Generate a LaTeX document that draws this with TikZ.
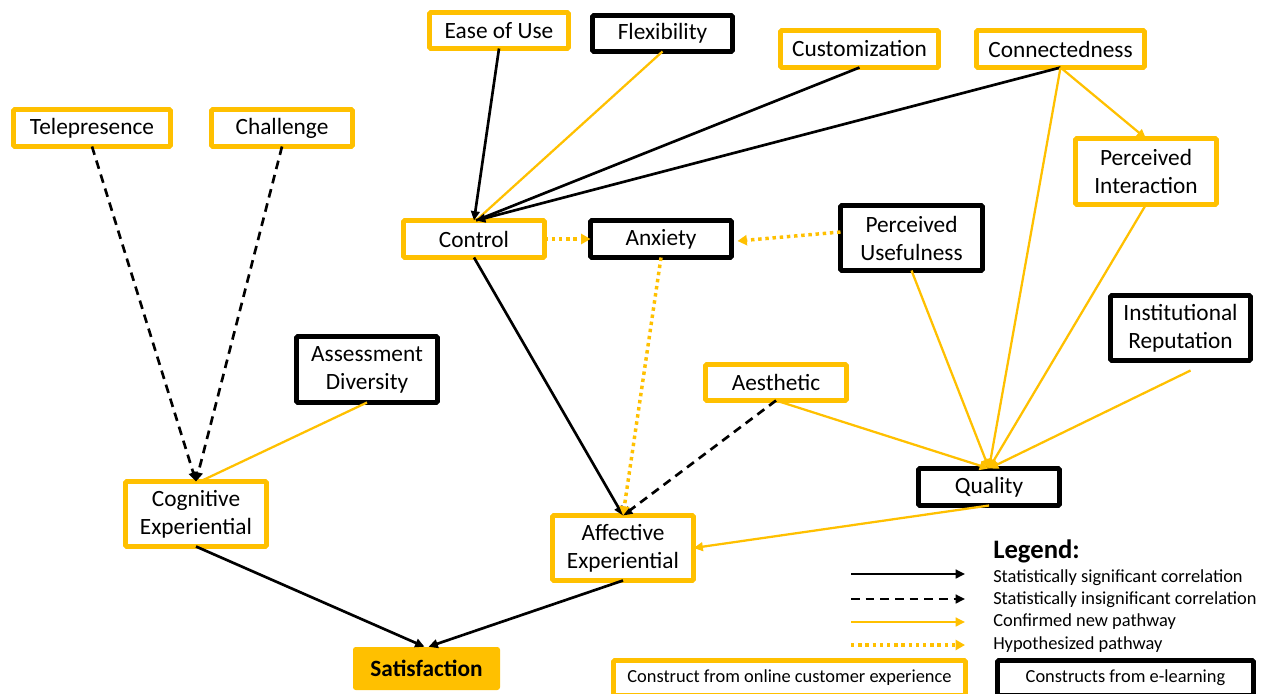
\documentclass[tikz,border=0pt]{standalone}
\usepackage{fontspec}
\setmainfont{Carlito}
\usetikzlibrary{arrows.meta,calc}
\definecolor{gold}{HTML}{FFC000}
\tikzset{
 ybox/.style={draw=gold, line width=3.6pt, rounded corners=1pt, fill=white, inner sep=0pt, outer sep=0pt, align=center, font=\fontsize{17.5}{21}\selectfont},
 kbox/.style={ybox, draw=black},
 sig/.style={draw=black, line width=2pt, -{Triangle[length=7pt,width=6.5pt]}},
 sigline/.style={draw=black, line width=2pt},
 insig/.style={sig, dash pattern=on 6.5pt off 4.5pt},
 conf/.style={draw=gold, line width=1.7pt, -{Triangle[length=7pt,width=6.5pt]}},
 confline/.style={draw=gold, line width=1.7pt},
 hyp/.style={draw=gold, line width=2.6pt, dash pattern=on 2.6pt off 2.8pt, -{Triangle[length=7pt,width=7.5pt]}},
 legtext/.style={anchor=west, inner sep=0pt, font=\fontsize{13.8}{16}\selectfont},
}
\newcommand\Bx[7]{\node[#2, minimum width={(#5-#3-5)*0.75pt}, minimum height={(#6-#4-5)*0.75pt}] (#1) at ({(#3+#5)/2},{(#4+#6)/2}) {#7};}
\begin{document}
\begin{tikzpicture}[x=0.75pt,y=-0.75pt]
\useasboundingbox (0,0) rectangle (1270,693);
% nodes
\Bx{eou}{ybox}{427}{10}{571}{51}{Ease of Use}
\Bx{flex}{kbox}{590}{13}{735}{54}{Flexibility}
\Bx{cust}{ybox}{778}{28}{941}{70}{Customization}
\Bx{conn}{ybox}{974}{28}{1147}{70}{Connectedness}
\Bx{tele}{ybox}{11}{107}{173}{149}{Telepresence}
\Bx{chal}{ybox}{209}{107}{355}{149}{Challenge}
\Bx{pi}{ybox}{1073}{136}{1219}{207}{Perceived\\Interaction}
\Bx{ctrl}{ybox}{401}{218}{547}{260}{Control}
\Bx{anx}{kbox}{588}{218}{734}{260}{Anxiety}
\Bx{pu}{kbox}{838}{203}{985}{273}{Perceived\\Usefulness}
\Bx{ir}{kbox}{1108}{293}{1253}{363}{Institutional\\Reputation}
\Bx{ad}{kbox}{294}{334}{440}{405}{Assessment\\Diversity}
\Bx{aes}{ybox}{703}{362}{849}{403}{Aesthetic}
\Bx{qual}{kbox}{916}{466}{1062}{508}{Quality}
\Bx{cog}{ybox}{123}{479}{269}{549}{Cognitive\\Experiential}
\Bx{aff}{ybox}{550}{513}{696}{583}{Affective\\Experiential}
\node[fill=gold, rounded corners=2pt, inner sep=0pt, minimum width={147*0.75pt}, minimum height={43*0.75pt}, font=\bfseries\fontsize{17.5}{21}\selectfont] (sat) at (426.5,668.5) {Satisfaction};
% edges
\draw[sig] (eou.south) -- (ctrl.north);
\draw[confline] (flex.south) -- ($(ctrl.north)+(2,0)$);
\draw[sigline] (cust.south) -- ($(ctrl.north)+(2,0)$);
\draw[sig] (conn.south) -- ($(ctrl.north)+(2,0)$);
\draw[conf] (conn.south) -- (pi.north);
\draw[conf] (conn.south) -- (qual.north);
\draw[conf] (pi.south) -- (qual.north);
\draw[conf] (pu.south) -- (qual.north);
\coordinate (irstart) at ($(ir.south)+(10,10)$);
\draw[conf] (irstart) -- (qual.north);
\draw[conf] (aes.south) -- (qual.north);
\draw[insig] (aes.south) -- (aff.north);
\draw[sig] (ctrl.south) -- (aff.north);
\draw[hyp] (anx.south) -- (aff.north);
\draw[hyp] (ctrl.east) -- (anx.west);
\draw[hyp] ($(pu.west)+(0,-6)$) -- ($(anx.east)+(6,2)$);
\draw[conf] (qual.south) -- (aff.east);
\draw[insig] (tele.south) -- (cog.north);
\draw[insig] (chal.south) -- (cog.north);
\draw[confline] (ad.south) -- ($(cog.north)+(4,0)$);
\draw[sig] (cog.south) -- ($(sat.north)+(-2,0)$);
\draw[sig] (aff.south) -- ($(sat.north)+(2,0)$);
% legend
\node[anchor=west, inner sep=0pt, font=\bfseries\fontsize{20}{23}\selectfont] (legh) at (993,551) {Legend:};
\coordinate (l1a) at (851,574); \coordinate (l1b) at (965,574);
\coordinate (l2a) at (851,599); \coordinate (l2b) at (965,599);
\coordinate (l3a) at (851,622); \coordinate (l3b) at (965,622);
\coordinate (l4a) at (851,645); \coordinate (l4b) at (965,645);
\draw[sig, line width=1.7pt] (l1a) -- (l1b);
\draw[insig, line width=1.7pt] (l2a) -- (l2b);
\draw[conf] (l3a) -- (l3b);
\draw[hyp] (l4a) -- (l4b);
\node[legtext] (t1) at (993,578) {Statistically significant correlation};
\node[legtext] (t2) at (993,600) {Statistically insignificant correlation};
\node[legtext] (t3) at (993,622) {Confirmed new pathway};
\node[legtext] (t4) at (993,645) {Hypothesized pathway};
\Bx{lgy}{ybox, font=\fontsize{13.8}{16}\selectfont}{611}{658}{968}{698}{Construct from online customer experience}
\Bx{lgk}{kbox, font=\fontsize{13.8}{16}\selectfont}{995}{658}{1256}{698}{Constructs from e-learning}
\end{tikzpicture}
\end{document}
